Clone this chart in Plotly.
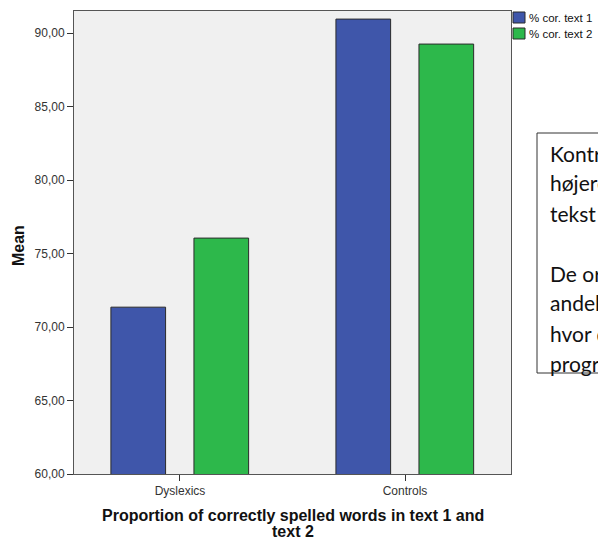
import plotly.graph_objects as go

# ---- data ----
categories = ["Dyslexics", "Controls"]
series_names = ["% cor. text 1", "% cor. text 2"]
text1_means = [71.35, 90.95]
text2_means = [76.05, 89.25]
y_ticks = [60, 65, 70, 75, 80, 85, 90]
x_title_lines = ["Proportion of correctly spelled words in text 1 and", "text 2"]
y_title = "Mean"
note_lines = [
    "Kontrolgruppen har en",
    "højere andel korrekt i",
    "tekst 1 og tekst 2.",
    "",
    "De ordblinde har en",
    "andel der er højere i",
    "hvor de har brugt",
    "programmet.",
]

# ---- layout helpers (pixel -> paper) ----
W, H = 598, 540
L, R, T, B = 74, 511, 11, 474


def px(x):
    return (x - L) / (R - L)


def py(y):
    return (B - y) / (B - T)


FONT = "Arial, Liberation Sans, sans-serif"
colors = ["#3F56AA", "#2DB84B"]
offsets = [-0.307, 0.062]

fig = go.Figure()
for name, vals, col, off in zip(series_names, [text1_means, text2_means], colors, offsets):
    fig.add_trace(go.Bar(
        x=categories, y=vals, name=name,
        marker=dict(color=col, line=dict(color="#2b2b2b", width=1)),
        offset=off, width=0.243, showlegend=False, hoverinfo="skip",
    ))

axis_common = dict(
    showline=True, mirror=True, linecolor="#555555", linewidth=1,
    ticks="outside", ticklen=6, tickcolor="#333333", tickwidth=1,
    tickfont=dict(family=FONT, size=12, color="#333333"),
    showgrid=False, zeroline=False,
)

fig.update_layout(
    width=W, height=H,
    margin=dict(l=L, r=W - R, t=T, b=H - B, pad=0),
    paper_bgcolor="white", plot_bgcolor="#F0F0F0",
    barmode="overlay",
    separators=",.",
    xaxis=dict(type="category", range=[-0.471, 1.471], **axis_common),
    yaxis=dict(range=[60, 91.5], tickvals=y_ticks, tickformat=".2f", **axis_common),
    showlegend=False,
)

annotations = []
shapes = []

# axis titles
annotations.append(dict(
    text=f"<b>{y_title}</b>", xref="paper", yref="paper", x=px(18), y=py(246),
    xanchor="center", yanchor="middle", textangle=-90, showarrow=False,
    font=dict(family=FONT, size=16, color="#111111"),
))
for i, line in enumerate(x_title_lines):
    annotations.append(dict(
        text=f"<b>{line}</b>", xref="paper", yref="paper", x=0.5, y=py(515 + 16 * i),
        xanchor="center", yanchor="middle", showarrow=False,
        font=dict(family=FONT, size=16, color="#111111"),
    ))

# legend (custom)
for i, (name, col) in enumerate(zip(series_names, colors)):
    cy = 17.5 + 16 * i
    shapes.append(dict(
        type="rect", xref="paper", yref="paper",
        x0=px(513), x1=px(525), y0=py(cy + 5.5), y1=py(cy - 5.5),
        fillcolor=col, line=dict(color="#2b2b2b", width=1),
    ))
    annotations.append(dict(
        text=name, xref="paper", yref="paper", x=px(527), y=py(cy),
        xanchor="left", yanchor="middle", showarrow=False,
        font=dict(family=FONT, size=11.5, color="#111111"),
    ))

# note text box (cut off at right edge)
shapes.append(dict(
    type="rect", xref="paper", yref="paper",
    x0=px(537), x1=px(760), y0=py(373), y1=py(133),
    fillcolor="white", line=dict(color="#333333", width=1), layer="above",
))
for i, line in enumerate(note_lines):
    if not line:
        continue
    annotations.append(dict(
        text=line, xref="paper", yref="paper", x=px(548), y=py(153 + 30 * i),
        xanchor="left", yanchor="middle", showarrow=False,
        font=dict(family="Lato, Open Sans, sans-serif", size=21, color="#111111"),
    ))

fig.update_layout(annotations=annotations, shapes=shapes)
fig.write_html(
    "out.html",
    config={"displayModeBar": False},
    post_script="document.body.style.margin='0';document.body.style.overflow='hidden';",
)
